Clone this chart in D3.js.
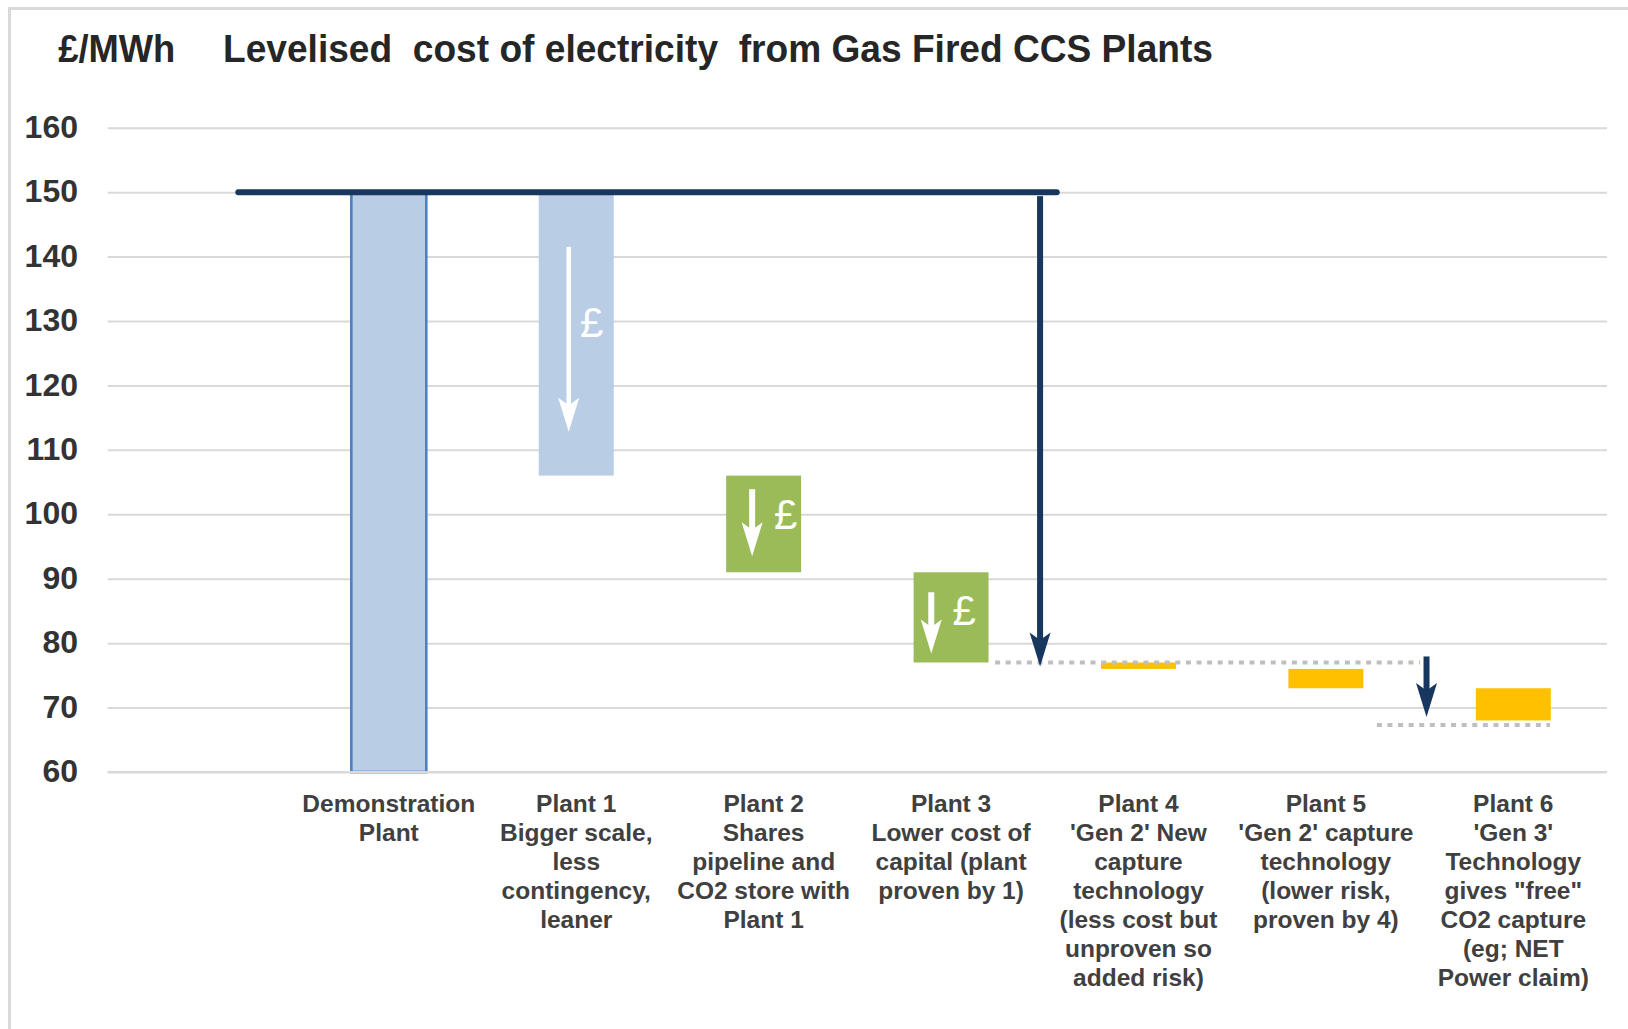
<!DOCTYPE html>
<html>
<head>
<meta charset="utf-8">
<script src="https://cdn.jsdelivr.net/npm/d3@7"></script>
<style>
  html, body { margin: 0; padding: 0; background: #fff; }
  svg { display: block; }
  text { font-family: "Liberation Sans", Arial, sans-serif; }
</style>
</head>
<body>
<svg id="chart" width="1628" height="1029"></svg>
<script>
// Levelised cost of electricity (£/MWh) for each successive gas-fired CCS plant.
// The first slot is an empty spacer column on the left of the chart.
const categories = ["", "Demonstration Plant", "Plant 1", "Plant 2", "Plant 3", "Plant 4", "Plant 5", "Plant 6"];

const categoryLines = [
  [],
  ["Demonstration", "Plant"],
  ["Plant 1", "Bigger scale,", "less", "contingency,", "leaner"],
  ["Plant 2", "Shares", "pipeline and", "CO2 store with", "Plant 1"],
  ["Plant 3", "Lower cost of", "capital (plant", "proven by 1)"],
  ["Plant 4", "'Gen 2' New", "capture", "technology", "(less cost but", "unproven so", "added risk)"],
  ["Plant 5", "'Gen 2' capture", "technology", "(lower risk,", "proven by 4)"],
  ["Plant 6", "'Gen 3'", "Technology", "gives \"free\"", "CO2 capture", "(eg; NET", "Power claim)"]
];

// cost reached by each plant; each step bar runs from the previous plant's cost
const costs = [null, 150, 106, 91, 77, 76, 73, 68];

// kind of step: starting plant, scale-up, shared-infrastructure/finance savings, new technology
const stepKinds = [null, "base", "scale", "saving", "saving", "tech", "tech", "tech"];

const yTicks = [60, 70, 80, 90, 100, 110, 120, 130, 140, 150, 160];

// reference levels drawn as annotations
const demoCost = 150;        // solid navy line across the first plants
const gen1Floor = 77;        // cost after Plants 1-3 (first dotted line)
const gen3Floor = 67.3;      // cost after Plant 6 (second dotted line)

const colors = {
  base:   { fill: "#b9cde5", stroke: "#4f81bd" },
  scale:  { fill: "#b9cde5", stroke: "none" },
  saving: { fill: "#9bbb59", stroke: "none" },
  tech:   { fill: "#ffc000", stroke: "none" }
};
const navy = "#17375e";

const svg = d3.select("#chart");

// outer frame (only the top and left edges fall inside the page)
svg.append("rect")
  .attr("x", 9.5).attr("y", 8.5)
  .attr("width", 1700).attr("height", 1100)
  .attr("fill", "none").attr("stroke", "#d9d9d9").attr("stroke-width", 3);

const plotLeft = 107.7, plotRight = 1607;
const x = d3.scaleBand()
  .domain(categories)
  .range([plotLeft, plotRight])
  .paddingInner(0.6)
  .paddingOuter(0.3);

const y = d3.scaleLinear().domain([60, 160]).range([772, 127.7]);

// position in category units (0 = centre of first slot)
const xPos = p => x(categories[0]) + x.bandwidth() / 2 + p * x.step();

// gridlines
const grid = svg.append("g")
  .attr("transform", `translate(${plotLeft},0)`)
  .call(d3.axisLeft(y).tickValues(yTicks).tickSize(-(plotRight - plotLeft)).tickFormat(""));
grid.select(".domain").remove();
grid.selectAll(".tick line").attr("stroke", "#d9d9d9").attr("stroke-width", 2);

// y tick labels
const yAxis = svg.append("g")
  .attr("transform", `translate(78,0)`)
  .call(d3.axisLeft(y).tickValues(yTicks).tickSize(0).tickPadding(0).tickFormat(d3.format("d")));
yAxis.select(".domain").remove();
yAxis.selectAll("text")
  .attr("font-family", "'Liberation Sans', Arial, sans-serif")
  .attr("font-size", 32)
  .attr("font-weight", "bold")
  .attr("fill", "#333")
  .attr("dy", "0.3em");

// waterfall steps
const steps = categories.map((c, i) => {
  if (costs[i] == null) return null;
  const top = stepKinds[i] === "base" ? costs[i] : costs[i - 1];
  const bottom = stepKinds[i] === "base" ? y.domain()[0] : costs[i];
  return { cat: c, top, bottom, kind: stepKinds[i] };
}).filter(d => d);

svg.append("g").selectAll("rect")
  .data(steps)
  .join("rect")
  .attr("x", d => x(d.cat))
  .attr("y", d => y(d.top))
  .attr("width", x.bandwidth())
  .attr("height", d => y(d.bottom) - y(d.top))
  .attr("fill", d => colors[d.kind].fill)
  .attr("stroke", d => colors[d.kind].stroke)
  .attr("stroke-width", 2.6);

// baseline at the foot of the axis, drawn over the bars
svg.append("line")
  .attr("x1", plotLeft).attr("x2", plotRight)
  .attr("y1", y(60)).attr("y2", y(60))
  .attr("stroke", "#d9d9d9").attr("stroke-width", 2);

// downward arrow with a slim stealth head
function downArrow(g, cx, y1, y2, shaftW, headW, headL, color) {
  const neck = y2 - headL * 0.78;
  g.append("rect")
    .attr("x", cx - shaftW / 2).attr("y", y1)
    .attr("width", shaftW).attr("height", neck - y1 + 1)
    .attr("fill", color);
  g.append("path")
    .attr("d", `M${cx},${y2} L${cx + headW / 2},${y2 - headL} L${cx},${neck} L${cx - headW / 2},${y2 - headL} Z`)
    .attr("fill", color);
}

// white "£ down" markers inside the cost-saving steps
const savingMarks = [
  { cat: "Plant 1", from: 141.5, to: 112.8, dx: -7.5, shaft: 4.5, pdx: 15.5, pv: 129.7 },
  { cat: "Plant 2", from: 103.9, to: 93.5, dx: -11.5, shaft: 6, pdx: 22, pv: 99.9 },
  { cat: "Plant 3", from: 87.9, to: 78.4, dx: -19.8, shaft: 6, pdx: 13, pv: 85.1 }
];
const marks = svg.append("g");
savingMarks.forEach(m => {
  const cx = x(m.cat) + x.bandwidth() / 2;
  downArrow(marks, cx + m.dx, y(m.from), y(m.to), m.shaft, 21, 34, "#fff");
  marks.append("text")
    .attr("x", cx + m.pdx)
    .attr("y", y(m.pv))
    .attr("dy", "0.34em")
    .attr("text-anchor", "middle")
    .attr("font-family", "'Liberation Serif', 'DejaVu Serif', serif")
    .attr("font-size", 42)
    .attr("fill", "#fff")
    .text("£");
});

// dotted levels reached after each technology phase
const dots = svg.append("g")
  .attr("stroke", "#bfbfbf").attr("stroke-width", 4)
  .attr("stroke-dasharray", "5,5.6").attr("fill", "none");
dots.append("line")
  .attr("x1", xPos(4.235)).attr("x2", xPos(6.503))
  .attr("y1", y(gen1Floor)).attr("y2", y(gen1Floor));
dots.append("line")
  .attr("x1", xPos(6.272)).attr("x2", xPos(7.196))
  .attr("y1", y(gen3Floor)).attr("y2", y(gen3Floor));

// solid line at the demonstration cost
svg.append("line")
  .attr("x1", xPos(0.197)).attr("x2", xPos(4.564))
  .attr("y1", y(demoCost)).attr("y2", y(demoCost))
  .attr("stroke", navy).attr("stroke-width", 6).attr("stroke-linecap", "round");

// navy arrows showing the overall drop of each phase
const drops = svg.append("g");
downArrow(drops, xPos(4.475), y(demoCost) + 4, y(gen1Floor) + 4, 6, 21, 34, navy);
downArrow(drops, xPos(6.537), y(gen1Floor) - 6, y(gen3Floor) - 8, 6, 21, 34, navy);

// category labels
const catLabels = svg.append("g")
  .attr("font-size", 24.5)
  .attr("font-weight", "bold")
  .attr("fill", "#404040")
  .attr("text-anchor", "middle");
categories.forEach((c, i) => {
  if (!categoryLines[i].length) return;
  const t = catLabels.append("text")
    .attr("x", x(c) + x.bandwidth() / 2)
    .attr("y", 812.3);
  categoryLines[i].forEach((line, k) => {
    t.append("tspan")
      .attr("x", x(c) + x.bandwidth() / 2)
      .attr("y", 812.3 + k * 29)
      .text(line);
  });
});

// title
svg.append("text")
  .attr("x", 58.3).attr("y", 61.7)
  .attr("font-size", 38).attr("font-weight", "bold").attr("fill", "#262626")
  .attr("textLength", 117).attr("lengthAdjust", "spacingAndGlyphs")
  .text("£/MWh");
svg.append("text")
  .attr("x", 223).attr("y", 61.7)
  .attr("font-size", 38).attr("font-weight", "bold").attr("fill", "#262626")
  .attr("textLength", 990).attr("lengthAdjust", "spacingAndGlyphs")
  .style("white-space", "pre")
  .text("Levelised  cost of electricity  from Gas Fired CCS Plants");
</script>
</body>
</html>
